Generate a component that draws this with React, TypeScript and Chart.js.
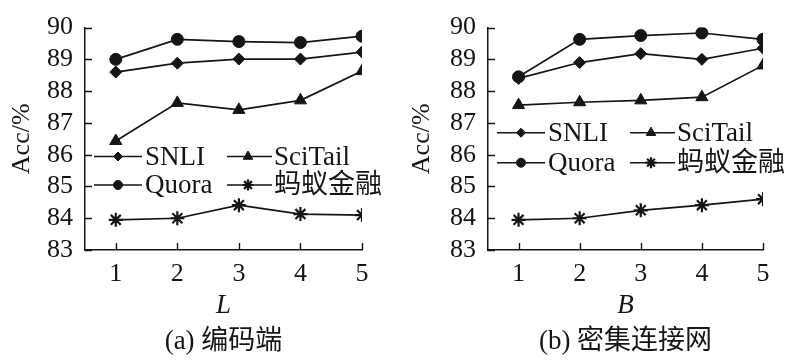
import React, { useEffect, useRef } from "react";
import { Chart, registerables } from "chart.js";
import { drawPoint } from "chart.js/helpers";

Chart.register(...registerables);

// ---- data ----
const X_VALUES = [1, 2, 3, 4, 5];
const Y_TICKS = [83, 84, 85, 86, 87, 88, 89, 90];
const SERIES_NAMES = ["SNLI", "SciTail", "Quora", "蚂蚁金融"];

// (a) 编码端, x = L
const A_SNLI = [88.6, 88.88, 89.01, 89.01, 89.23];
const A_SCITAIL = [86.43, 87.63, 87.41, 87.71, 88.63];
const A_QUORA = [89.0, 89.63, 89.56, 89.53, 89.73];
const A_ANT = [83.95, 84.0, 84.41, 84.13, 84.1];

// (b) 密集连接网, x = B
const B_SNLI = [88.4, 88.9, 89.18, 89.0, 89.35];
const B_SCITAIL = [87.56, 87.65, 87.71, 87.81, 88.81];
const B_QUORA = [88.45, 89.63, 89.75, 89.83, 89.63];
const B_ANT = [83.95, 84.0, 84.25, 84.41, 84.6];

const INK = "#151515";
const SERIF = "'Liberation Serif', 'Noto Sans CJK SC', serif";
const MIXED = "'Liberation Serif', 'Noto Sans CJK SC', serif";

const STYLES = [
  { pointStyle: "rectRot", radius: 6, legendRadius: 4.5, bw: 1 },
  { pointStyle: "triangle", radius: 7, legendRadius: 5.5, bw: 1 },
  { pointStyle: "circle", radius: 6, legendRadius: 4.5, bw: 1 },
  { pointStyle: "star", radius: 7, legendRadius: 5.5, bw: 2.2 },
];

const decoPlugin = {
  id: "deco",
  afterDraw(chart: any, _args: any, opts: any) {
    const ctx = chart.ctx as CanvasRenderingContext2D;
    const area = chart.chartArea;
    const xs = chart.scales.x;
    const ys = chart.scales.y;
    ctx.save();
    ctx.strokeStyle = INK;
    ctx.fillStyle = INK;
    ctx.lineWidth = 1.4;
    // inward ticks
    ctx.beginPath();
    Y_TICKS.forEach((v) => {
      const y = Math.round(ys.getPixelForValue(v)) + 0.5;
      ctx.moveTo(area.left, y);
      ctx.lineTo(area.left + 7, y);
    });
    X_VALUES.forEach((v) => {
      const x = Math.round(xs.getPixelForValue(v)) + 0.5;
      ctx.moveTo(x, area.bottom);
      ctx.lineTo(x, area.bottom - 7);
    });
    ctx.stroke();

    // y title
    const cy = (area.top + area.bottom) / 2;
    ctx.save();
    ctx.translate(22, cy);
    ctx.rotate(-Math.PI / 2);
    ctx.font = `26px ${SERIF}`;
    ctx.textAlign = "center";
    ctx.textBaseline = "middle";
    ctx.fillText("Acc/%", 0, 0);
    ctx.restore();

    // x title and caption
    const cx = (area.left + area.right) / 2;
    ctx.textAlign = "center";
    ctx.textBaseline = "middle";
    ctx.font = `italic 27px ${SERIF}`;
    ctx.fillText(opts.xTitle, cx, opts.xTitleY);
    ctx.font = `27px ${MIXED}`;
    ctx.fillText(opts.caption, cx, opts.captionY);

    // legend
    const cols = [
      { x0: 9, x1: 57, mk: 33, tx: 60 },
      { x0: 142, x1: 187, mk: 163, tx: 189 },
    ];
    const order = [
      [0, 1],
      [2, 3],
    ];
    ctx.font = `27px ${MIXED}`;
    ctx.textAlign = "left";
    ctx.textBaseline = "middle";
    order.forEach((row, ri) => {
      const y = opts.legendRows[ri];
      row.forEach((si, ci) => {
        const c = cols[ci];
        ctx.lineWidth = 1.6;
        ctx.beginPath();
        ctx.moveTo(area.left + c.x0, y);
        ctx.lineTo(area.left + c.x1, y);
        ctx.stroke();
        const st = STYLES[si];
        ctx.lineWidth = st.bw;
        drawPoint(
          ctx,
          { pointStyle: st.pointStyle, radius: st.legendRadius, rotation: 0, borderWidth: st.bw } as any,
          area.left + c.mk,
          y
        );
        ctx.fillText(SERIES_NAMES[si], area.left + c.tx, y + 1);
      });
    });
    ctx.restore();
  },
};

type PanelProps = {
  series: number[][];
  yAxisWidth: number;
  padRight: number;
  xTitle: string;
  caption: string;
  legendRows: number[];
};

function Panel({ series, yAxisWidth, padRight, xTitle, caption, legendRows }: PanelProps) {
  const ref = useRef<HTMLCanvasElement | null>(null);
  useEffect(() => {
    if (!ref.current) return;
    const datasets = series.map((vals, i) => ({
      label: SERIES_NAMES[i],
      data: vals.map((v, j) => ({ x: X_VALUES[j], y: v })),
      borderColor: INK,
      backgroundColor: INK,
      borderWidth: 1.7,
      pointStyle: STYLES[i].pointStyle as any,
      pointRadius: STYLES[i].radius,
      pointBorderWidth: STYLES[i].bw,
      pointBackgroundColor: INK,
      pointBorderColor: INK,
      tension: 0,
    }));
    const chart = new Chart(ref.current, {
      type: "line",
      data: { datasets },
      plugins: [decoPlugin],
      options: {
        animation: false,
        responsive: false,
        maintainAspectRatio: false,
        devicePixelRatio: 1,
        layout: { padding: { top: 18, right: padRight, bottom: 0, left: 0 } },
        plugins: {
          legend: { display: false },
          tooltip: { enabled: false },
          deco: { xTitle, caption, legendRows, xTitleY: 306, captionY: 342 },
        } as any,
        scales: {
          x: {
            type: "linear",
            min: 0.5,
            max: 5,
            afterBuildTicks: (s: any) => {
              s.ticks = X_VALUES.map((v) => ({ value: v }));
            },
            afterFit: (s: any) => {
              s.height = 110;
            },
            grid: { display: false, drawTicks: false },
            border: { display: true, color: INK, width: 1.5 },
            ticks: {
              color: INK,
              padding: 9,
              autoSkip: false,
              font: { family: SERIF, size: 26 },
              maxRotation: 0,
            },
          },
          y: {
            type: "linear",
            min: 83,
            max: 90,
            afterBuildTicks: (s: any) => {
              s.ticks = Y_TICKS.map((v) => ({ value: v }));
            },
            afterFit: (s: any) => {
              s.width = yAxisWidth;
            },
            grid: { display: false, drawTicks: false },
            border: { display: true, color: INK, width: 1.5 },
            ticks: {
              color: INK,
              padding: 12,
              autoSkip: false,
              font: { family: SERIF, size: 26 },
            },
          },
        },
      },
    });
    return () => chart.destroy();
  }, []);
  return <canvas ref={ref} width={400} height={360} style={{ display: "block", width: 400, height: 360 }} />;
}

export default function App() {
  return (
    <div style={{ position: "fixed", left: 0, top: 0, width: 800, height: 360, background: "#fff", display: "flex" }}>
      <Panel
        series={[A_SNLI, A_SCITAIL, A_QUORA, A_ANT]}
        yAxisWidth={85}
        padRight={38}
        xTitle="L"
        caption="(a) 编码端"
        legendRows={[156.5, 185]}
      />
      <Panel
        series={[B_SNLI, B_SCITAIL, B_QUORA, B_ANT]}
        yAxisWidth={88}
        padRight={37}
        xTitle="B"
        caption="(b) 密集连接网"
        legendRows={[132.7, 162.7]}
      />
    </div>
  );
}
